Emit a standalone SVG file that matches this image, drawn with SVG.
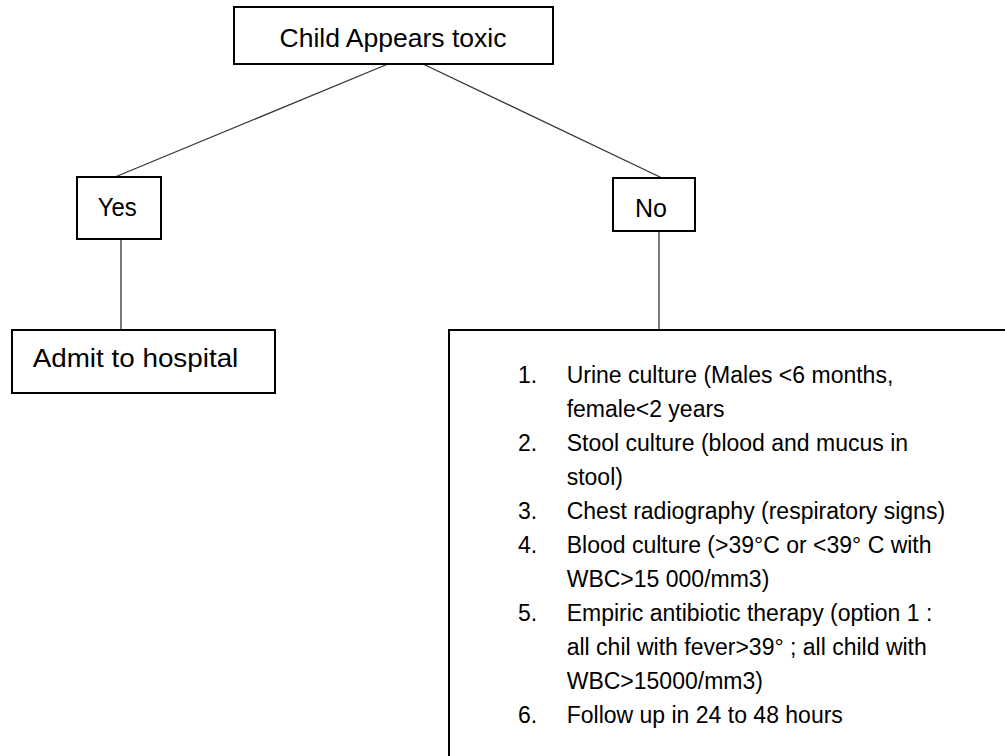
<svg xmlns="http://www.w3.org/2000/svg" width="1005" height="756" viewBox="0 0 1005 756">
<style>
.box{fill:#fff;stroke:#000;stroke-width:2}
.lbl{font-family:"Liberation Sans",Arial,sans-serif;font-size:26px;fill:#000}
.body{font-family:"Liberation Sans",Arial,sans-serif;font-size:23px;fill:#000}
.conn line{stroke:#333;stroke-width:1.3}
</style>
<rect width="1005" height="756" fill="#fff"/>
<g class="conn" id="connectors">
<line x1="388" y1="64" x2="115" y2="177"/>
<line x1="423" y1="64" x2="662" y2="178"/>
<line x1="121" y1="239" x2="121" y2="330"/>
<line x1="659" y1="231" x2="659" y2="330"/>
</g>
<g id="node-toxic">
<rect class="box" x="234" y="7" width="319" height="57"/>
<text class="lbl" x="279.5" y="47" textLength="227" lengthAdjust="spacingAndGlyphs">Child Appears toxic</text>
</g>
<g id="node-yes">
<rect class="box" x="77" y="177" width="84" height="62"/>
<text class="lbl" x="97.7" y="216" textLength="39" lengthAdjust="spacingAndGlyphs">Yes</text>
</g>
<g id="node-no">
<rect class="box" x="613" y="178" width="82" height="53"/>
<text class="lbl" x="635" y="217" textLength="32" lengthAdjust="spacingAndGlyphs">No</text>
</g>
<g id="node-admit">
<rect class="box" x="12" y="330" width="263" height="63"/>
<text class="lbl" x="32.7" y="367" textLength="205.6" lengthAdjust="spacingAndGlyphs">Admit to hospital</text>
</g>
<g id="node-workup">
<path d="M449,770 V330 H1012" fill="#fff" stroke="#000" stroke-width="2"/>
<g class="body">
<text x="518" y="383">1.</text>
<text x="566.7" y="383">Urine culture (Males &lt;6 months,</text>
<text x="566.7" y="417">female&lt;2 years</text>
<text x="518" y="451">2.</text>
<text x="566.7" y="451">Stool culture (blood and mucus in</text>
<text x="566.7" y="485">stool)</text>
<text x="518" y="519">3.</text>
<text x="566.7" y="519">Chest radiography (respiratory signs)</text>
<text x="518" y="553">4.</text>
<text x="566.7" y="553">Blood culture (&gt;39°C or &lt;39° C with</text>
<text x="566.7" y="587">WBC&gt;15 000/mm3)</text>
<text x="518" y="621">5.</text>
<text x="566.7" y="621">Empiric antibiotic therapy (option 1 :</text>
<text x="566.7" y="655">all chil with fever&gt;39° ; all child with</text>
<text x="566.7" y="689">WBC&gt;15000/mm3)</text>
<text x="518" y="723">6.</text>
<text x="566.7" y="723">Follow up in 24 to 48 hours</text>
</g>
</g>
</svg>
